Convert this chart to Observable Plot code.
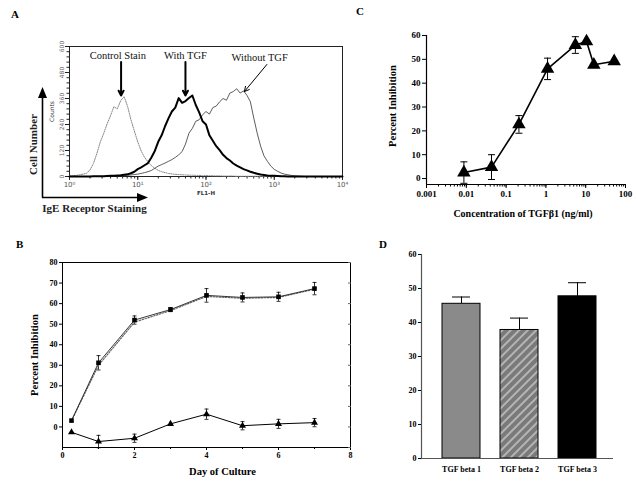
<!DOCTYPE html>
<html><head><meta charset="utf-8">
<script src="https://cdn.jsdelivr.net/npm/d3@7"></script>
<script src="https://cdn.jsdelivr.net/npm/@observablehq/plot@0.6"></script>
<style>
html,body{margin:0;padding:0;background:#fff;}
#fig{position:relative;width:637px;height:482px;overflow:hidden;background:#fff;}
.panel{position:absolute;}
.panel svg{display:block;max-width:none;}
.letter{position:absolute;font-family:"Liberation Serif",serif;font-weight:bold;font-size:11px;line-height:1;}
</style></head><body>
<div id="fig">
 <div class="panel" id="pA" style="left:0;top:0"></div>
 <div class="panel" id="pC" style="left:320px;top:0"></div>
 <div class="panel" id="pB" style="left:0;top:230px"></div>
 <div class="panel" id="pD" style="left:355px;top:230px"></div>
 <div class="letter" style="left:11px;top:9px">A</div>
 <div class="letter" style="left:356px;top:6px">C</div>
 <div class="letter" style="left:16px;top:239px">B</div>
 <div class="letter" style="left:379px;top:239px">D</div>
</div>
<script>
// ---------- Panel A data (flow cytometry histograms) ----------
const flExp = [0,0.05,0.1,0.15,0.2,0.25,0.3,0.35,0.4,0.45,0.5,0.55,0.6,0.65,0.7,0.75,0.8,0.85,0.9,0.95,1,1.05,1.1,1.15,1.2,1.25,1.3,1.35,1.4,1.45,1.5,1.55,1.6,1.65,1.7,1.75,1.8,1.85,1.9,1.95,2,2.05,2.1,2.15,2.2,2.25,2.3,2.35,2.4,2.45,2.5,2.55,2.6,2.65,2.7,2.75,2.8,2.85,2.9,2.95,3,3.05,3.1,3.15,3.2,3.25,3.3,3.35,3.4,3.45,3.5,3.55,3.6,3.65,3.7,3.75,3.8,3.85,3.9,3.95,4];
const controlCounts = [3,4,5,8,11,15,30,60,105,158,198,242,280,322,312,350,368,325,262,210,160,118,88,68,50,38,28,22,18,14,12,10,9,8,7,6,6,5,5,4,4,4,3,3,3,2,2,2,2,1,1,1,1,1,1,1,1,1,1,1,0,0,0,0,0,0,0,0,0,0,0,0,0,0,0,0,0,0,0,0,0];
const withTGFCounts = [0,0,0,0,0,0,0,1,1,1,1,2,3,4,5,6,8,10,15,22,34,42,52,62,88,118,160,190,232,268,300,318,362,340,348,362,374,330,296,255,240,190,165,140,122,100,85,74,60,50,42,34,28,22,17,13,9,7,5,4,3,2,1,1,0,0,0,0,0,0,0,0,0,0,0,0,0,0,0,0,0];
const withoutTGFCounts = [0,0,0,0,0,0,0,0,0,0,0,0,0,1,2,3,4,5,7,9,11,14,18,22,28,38,48,55,62,70,78,88,100,115,150,200,222,255,262,285,300,288,318,325,345,360,352,385,392,405,385,395,375,345,270,200,140,95,70,48,33,24,16,11,8,5,3,2,1,0,0,0,0,0,0,0,0,0,0,0,0];
const aLabels = ["Control Stain","With TGF","Without TGF"];
const aLabelFL = [5.1, 50, 610];
const aLabelCount = [558, 558, 549];
const aArrowFL1 = [5.7, 50, 780];
const aArrowCount1 = [528, 528, 517];
const aArrowFL2 = [5.7, 50, 365];
const aArrowCount2 = [374, 374, 392];
const aCountTicks = [0,120,240,360,480,600];
const aDecadeTicks = [1,10,100,1000,10000];

// ---------- Panel B data ----------
const days = [0.25,1,2,3,4,5,6,7];
const inhibSquares = [3.1,31.2,52,57.1,64,63,63.3,67.3];
const inhibSquaresDotted = [3,30,51,56.6,63.5,62.6,63,67];
const errSquares = [0,3.5,2,1,3.3,2.2,2.2,3];
const inhibTriangles = [-2.6,-7.1,-5.5,1.5,6.2,0.6,1.5,2.1];
const errTriangles = [0,3,2,0,2.5,2,2.2,2];
const bDayTicks = [0,2,4,6,8];
const bPctTicks = [0,10,20,30,40,50,60,70,80];

// ---------- Panel C data ----------
const concTGF = [0.0087,0.043,0.21,1.1,5.5,10.5,16,52];
const inhibConc = [2.5,4.8,22.7,46,56,57.5,47.7,49.2];
const errConc = [4.5,5.2,3.7,4.5,3.5,0,0,0];
const cConcTicks = [0.001,0.01,0.1,1,10,100];
const cPctTicks = [0,10,20,30,40,50,60];

// ---------- Panel D data ----------
const dIsoforms = ["TGF beta 1","TGF beta 2","TGF beta 3"];
const dInhib = [45.5,37.8,47.7];
const dErr = [2,3.5,4];
const dPctTicks = [0,10,20,30,40,50,60];

// helpers
const capSymbol = {draw(ctx, size){ const w = Math.sqrt(size/Math.PI); ctx.moveTo(-w,0); ctx.lineTo(w,0); }};
const sup = {"0":"⁰","1":"¹","2":"²","3":"³","4":"⁴"};
const serif = "Liberation Serif";

// ================= Panel A =================
const histo = (counts) => flExp.map((e,i)=>({fl: 10**e, count: counts[i]}));
const aAnn = aLabels.map((l,i)=>({label:l, tx:aLabelFL[i], ty:aLabelCount[i], x1:aArrowFL1[i], y1:aArrowCount1[i], x2:aArrowFL2[i], y2:aArrowCount2[i]}));
const plotA = Plot.plot({
  width:352, height:215, marginLeft:69, marginTop:46, marginRight:10, marginBottom:39,
  style:{background:"transparent", fontFamily:"DejaVu Sans", fontSize:"6px", color:"#222"},
  x:{type:"log", domain:[1,1e4], label:null},
  y:{domain:[0,600], label:null},
  marks:[
    Plot.axisX({ticks:d3.scaleLog().domain([1,1e4]).ticks(), tickSize:2.5, tickFormat:()=>"", label:null}),
    Plot.axisX({ticks:aDecadeTicks, tickSize:4, tickPadding:2, fontSize:7, fill:"#555", tickFormat:d=>"10"+sup[Math.round(Math.log10(d))], label:null}),
    Plot.axisY({ticks:d3.range(0,601,24), tickSize:2.5, tickFormat:()=>"", label:null}),
    Plot.axisY({ticks:aCountTicks, tickSize:4, tickRotate:-90, tickPadding:2, fontSize:6, fill:"#666", label:null}),
    Plot.frame({stroke:"#222", strokeWidth:1}),
    Plot.line(histo(controlCounts), {x:"fl", y:"count", stroke:"#888", strokeWidth:1, strokeDasharray:"1.2,1.2"}),
    Plot.line(histo(withoutTGFCounts), {x:"fl", y:"count", stroke:"#333", strokeWidth:0.8}),
    Plot.line(histo(withTGFCounts), {x:"fl", y:"count", stroke:"#000", strokeWidth:2}),
    Plot.arrow(aAnn, {x1:"x1", y1:"y1", x2:"x2", y2:"y2", stroke:"#000", strokeWidth:d=>d.label==="Without TGF"?1:2, headLength:8, headAngle:55}),
    Plot.text(aAnn, {x:"tx", y:"ty", text:"label", fontFamily:serif, fontSize:10.5, fill:"#111"}),
    Plot.text(["Counts"], {text:d=>d, frameAnchor:"left", dx:-17, rotate:-90, textAnchor:"middle", lineAnchor:"middle", fontSize:6, fill:"#333"}),
    Plot.text(["FL1-H"], {text:d=>d, frameAnchor:"bottom", dy:18, fontSize:5.5, fontWeight:"bold", fill:"#333"}),
    Plot.text(["Cell Number"], {text:d=>d, frameAnchor:"left", dx:-36, dy:33, rotate:-90, textAnchor:"middle", lineAnchor:"middle", fontFamily:serif, fontWeight:"bold", fontSize:11}),
    Plot.text(["IgE Receptor Staining"], {text:d=>d, frameAnchor:"bottom-left", dx:25, dy:32, textAnchor:"middle", lineAnchor:"middle", fontFamily:serif, fontWeight:"bold", fontSize:11})
  ]
});
document.getElementById("pA").appendChild(plotA);
// decorative axis arrows outside the frame of panel A
{
  const g = d3.select(plotA).append("g").attr("fill","#000").attr("stroke","#000");
  g.append("line").attr("x1",42.5).attr("y1",197.5).attr("x2",42.5).attr("y2",96).attr("stroke-width",1.6);
  g.append("path").attr("d","M42.5,87L38,98L47,98Z").attr("stroke","none");
  g.append("line").attr("x1",42).attr("y1",197.5).attr("x2",138).attr("y2",197.5).attr("stroke-width",1.6);
  g.append("path").attr("d","M148,197.5L137,193L137,202Z").attr("stroke","none");
}

// ================= Panel B =================
const bSq = days.map((d,i)=>({day:d, v:inhibSquares[i], e:errSquares[i]}));
const bSq2 = days.map((d,i)=>({day:d, v:inhibSquaresDotted[i]}));
const bTr = days.map((d,i)=>({day:d, v:inhibTriangles[i], e:errTriangles[i]}));
const bErr = [...bSq, ...bTr].filter(d=>d.e>0);
const plotB = Plot.plot({
  width:355, height:252, marginLeft:62, marginTop:32, marginRight:5, marginBottom:35,
  style:{background:"transparent", fontFamily:serif, fontWeight:"bold", fontSize:"8px", color:"#000"},
  x:{domain:[0,8], label:null},
  y:{domain:[-10,80], label:null},
  marks:[
    Plot.frame({stroke:"#000", strokeWidth:1}),
    Plot.axisX({ticks:bDayTicks, tickSize:3, tickPadding:2, label:null}),
    Plot.axisX({ticks:[1,3,5,7], tickSize:2, tickFormat:()=>"", label:null}),
    Plot.axisY({ticks:bPctTicks, tickSize:3, tickPadding:2, label:null}),
    Plot.axisY({anchor:"right", ticks:d3.range(-10,81,10), tickSize:-3, tickFormat:()=>"", label:null, stroke:"#666"}),
    Plot.ruleX(bErr, {x:"day", y1:d=>d.v-d.e, y2:d=>d.v+d.e, stroke:"#000", strokeWidth:0.8}),
    Plot.dot(bErr, {x:"day", y:d=>d.v+d.e, symbol:capSymbol, r:2, stroke:"#000", strokeWidth:0.8}),
    Plot.dot(bErr, {x:"day", y:d=>d.v-d.e, symbol:capSymbol, r:2, stroke:"#000", strokeWidth:0.8}),
    Plot.line(bSq2, {x:"day", y:"v", stroke:"#666", strokeWidth:1.2, strokeDasharray:"1.5,1.5"}),
    Plot.line(bSq, {x:"day", y:"v", stroke:"#222", strokeWidth:0.9}),
    Plot.line(bTr, {x:"day", y:"v", stroke:"#000", strokeWidth:1}),
    Plot.dot(bSq, {x:"day", y:"v", symbol:"square", r:2.6, fill:"#000"}),
    Plot.dot(bTr, {x:"day", y:"v", symbol:"triangle", r:2.6, fill:"#000"}),
    Plot.text(["Percent Inhibition"], {text:d=>d, frameAnchor:"left", dx:-28, rotate:-90, textAnchor:"middle", lineAnchor:"middle", fontSize:10.5}),
    Plot.text(["Day of Culture"], {text:d=>d, frameAnchor:"bottom", dx:16, dy:24, textAnchor:"middle", lineAnchor:"middle", fontSize:10.5})
  ]
});
document.getElementById("pB").appendChild(plotB);

// ================= Panel C =================
const cPts = concTGF.map((c,i)=>({conc:c, v:inhibConc[i], e:errConc[i]}));
const cErr = cPts.filter(d=>d.e>0);
const plotC = Plot.plot({
  width:317, height:230, marginLeft:106, marginTop:35, marginRight:12, marginBottom:46,
  style:{background:"transparent", fontFamily:serif, fontWeight:"bold", fontSize:"9px", color:"#000"},
  x:{type:"log", domain:[0.001,100], label:null},
  y:{domain:[-2.5,60], label:null},
  marks:[
    Plot.ruleX([0.001], {stroke:"#000", strokeWidth:1.2}),
    Plot.ruleY([-2.5], {stroke:"#000", strokeWidth:1.2}),
    Plot.axisX({ticks:d3.scaleLog().domain([0.001,100]).ticks(), tickSize:2.5, tickFormat:()=>"", label:null}),
    Plot.axisX({ticks:cConcTicks, tickSize:4, tickPadding:2, tickFormat:d=>String(d), label:null}),
    Plot.axisY({ticks:cPctTicks, tickSize:4, tickPadding:2, label:null}),
    Plot.ruleX(cErr, {x:"conc", y1:d=>d.v-d.e, y2:d=>d.v+d.e, stroke:"#000", strokeWidth:1}),
    Plot.dot(cErr, {x:"conc", y:d=>d.v+d.e, symbol:capSymbol, r:3.5, stroke:"#000", strokeWidth:1}),
    Plot.dot(cErr, {x:"conc", y:d=>d.v-d.e, symbol:capSymbol, r:3.5, stroke:"#000", strokeWidth:1}),
    Plot.line(cPts, {x:"conc", y:"v", stroke:"#000", strokeWidth:1.6}),
    Plot.dot(cPts, {x:"conc", y:"v", symbol:"triangle", r:5, fill:"#000"}),
    Plot.text(["Percent Inhibition"], {text:d=>d, frameAnchor:"left", dx:-34, dy:-4, rotate:-90, textAnchor:"middle", lineAnchor:"middle", fontSize:10.5}),
    Plot.text(["Concentration of TGFβ1 (ng/ml)"], {text:d=>d, frameAnchor:"bottom", dx:-3, dy:29, textAnchor:"middle", lineAnchor:"middle", fontSize:10})
  ]
});
document.getElementById("pC").appendChild(plotC);

// ================= Panel D =================
const dData = dIsoforms.map((k,i)=>({iso:k, v:dInhib[i], e:dErr[i]}));
const plotD = Plot.plot({
  width:282, height:252, marginLeft:66, marginTop:24, marginRight:24, marginBottom:24,
  style:{background:"transparent", fontFamily:serif, fontWeight:"bold", fontSize:"8px", color:"#000"},
  x:{type:"band", domain:dIsoforms, range:[77,251], paddingInner:0.345, paddingOuter:0.17, label:null},
  y:{domain:[0,60], label:null},
  color:{domain:dIsoforms, range:["#8a8a8a","url(#hatchD)","#000"]},
  marks:[
    Plot.ruleX(dData, {x:"iso", y1:"v", y2:d=>d.v+d.e, stroke:"#000", strokeWidth:1}),
    Plot.tickY(dData, {x:"iso", y:d=>d.v+d.e, stroke:"#000", strokeWidth:1, insetLeft:10, insetRight:10}),
    Plot.barY(dData, {x:"iso", y:"v", fill:"iso", stroke:"#000", strokeWidth:1}),
    Plot.ruleY([0], {stroke:"#555", strokeWidth:1}),
    Plot.frame({anchor:"left", stroke:"#555", strokeWidth:1.2}),
    Plot.axisY({ticks:dPctTicks, tickSize:3, tickPadding:2, label:null}),
    Plot.axisX({tickSize:0, tickPadding:8, label:null})
  ]
});
{
  const defs = d3.select(plotD).insert("defs", ":first-child");
  const p = defs.append("pattern").attr("id","hatchD").attr("patternUnits","userSpaceOnUse")
    .attr("width",6).attr("height",6).attr("patternTransform","rotate(45)");
  p.append("rect").attr("width",6).attr("height",6).attr("fill","#7a7a7a");
  p.append("line").attr("x1",1).attr("y1",0).attr("x2",1).attr("y2",6).attr("stroke","#eeeeee").attr("stroke-width",1);
}
document.getElementById("pD").appendChild(plotD);
</script>
</body></html>
